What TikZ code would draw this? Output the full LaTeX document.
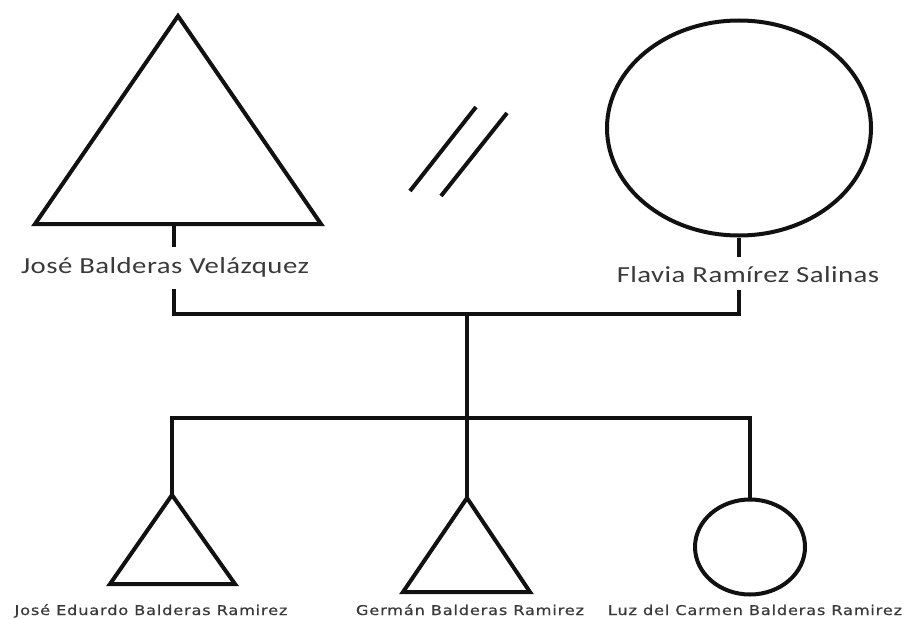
\documentclass[tikz,border=0pt]{standalone}
\usepackage{fontspec}
\setmainfont{Carlito}
\newfontfamily\parentfont[FakeStretch=1.25, LetterSpace=2]{Carlito}
\newfontfamily\kidfont[FakeStretch=1.2, LetterSpace=6, FakeBold=0.6]{DejaVu Sans}
\usetikzlibrary{shapes.geometric}
\definecolor{ink}{HTML}{111111}
\definecolor{labelgray}{HTML}{3A3A3A}
\tikzset{
  kin/.style={draw=ink, line width=4pt, line join=miter},
  bigname/.style={text=labelgray, font=\parentfont\fontsize{23}{25}\selectfont, inner sep=0pt, anchor=base},
  kidname/.style={text=labelgray, font=\kidfont\fontsize{13.5}{15}\selectfont, inner sep=0pt, anchor=base},
  femalebig/.style={kin, ellipse, minimum width=264pt, minimum height=215pt, inner sep=0pt},
  femalesmall/.style={kin, ellipse, minimum width=110pt, minimum height=95pt, inner sep=0pt},
}
\begin{document}
\begin{tikzpicture}[x=1pt, y=-1pt]
  \useasboundingbox[fill=white] (0,0) rectangle (909,618);

  % father
  \coordinate (fA) at (178,16);
  \coordinate (fL) at (35,224);
  \coordinate (fR) at (321,224);
  \coordinate (fB) at (174,224);
  \draw[kin] (fA) -- (fL) -- (fR) -- cycle;
  \node[bigname] (jose) at (165,273) {José Balderas Velázquez};
  \coordinate (fS1) at (174,247);
  \coordinate (fS2) at (174,289);

  % mother
  \node[femalebig] (flavia) at (739,128) {};
  \node[bigname] (flaviaN) at (748,282) {Flavia Ramírez Salinas};
  \coordinate (mS1) at (739,257);
  \coordinate (mS2) at (739,290);

  % separation mark
  \coordinate (d1a) at (410,191);
  \coordinate (d1b) at (476,107);
  \coordinate (d2a) at (441,196);
  \coordinate (d2b) at (507,113);
  \draw[kin] (d1a) -- (d1b);
  \draw[kin] (d2a) -- (d2b);

  % couple line and descent
  \coordinate (cL) at (174,314);
  \coordinate (cR) at (739,314);
  \coordinate (cM) at (467,314);
  \draw[kin] (fB) -- (fS1);
  \draw[kin] (fS2) -- (cL) -- (cR) -- (mS2);
  \draw[kin] (flavia.south) -- (mS1);

  % sibship line
  \coordinate (sL) at (172,418);
  \coordinate (sR) at (750,418);
  \coordinate (sM) at (467,418);

  % son 1
  \coordinate (k1A) at (172,495);
  \coordinate (k1L) at (110,584);
  \coordinate (k1R) at (235,584);
  \draw[kin] (k1A) -- (k1L) -- (k1R) -- cycle;

  % son 2
  \coordinate (k2A) at (467,498);
  \coordinate (k2L) at (403,592);
  \coordinate (k2R) at (530,592);
  \draw[kin] (k2A) -- (k2L) -- (k2R) -- cycle;
  \draw[kin] (cM) -- (k2A);

  % daughter
  \node[femalesmall] (luz) at (750,547) {};
  \draw[kin] (k1A) -- (sL) -- (sR) -- (luz.north);

  % children names
  \node[kidname] (k1N) at (151,615) {José Eduardo Balderas Ramirez};
  \node[kidname] (k2N) at (470,615) {Germán Balderas Ramirez};
  \node[kidname] (k3N) at (755,615) {Luz del Carmen Balderas Ramirez};
\end{tikzpicture}
\end{document}
